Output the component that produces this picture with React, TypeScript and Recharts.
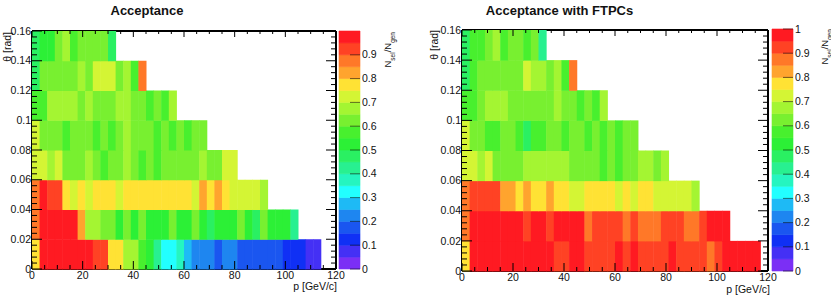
import React from 'react';
import { ScatterChart, Scatter, XAxis, YAxis, ReferenceLine, BarChart, Bar } from 'recharts';

// ROOT-like 20 level palette, one colour per 0.05 of N_sel/N_gen
const PALETTE = [
  '#7b2ff5', '#4430f5', '#1030f5', '#1a56f0', '#1e86f0',
  '#1ebaf5', '#22ffff', '#25f5c0', '#28f090', '#2af062',
  '#2cf036', '#48f02e', '#78f030', '#a4f532', '#d4f534',
  '#ffe234', '#ffa42e', '#ff7828', '#ff4224', '#ff1a22',
];
const Z_STEP = 0.05;

const P_BIN = 3;      // GeV/c
const TH_BIN = 0.02;  // rad
const P_MAX = 120;
const TH_MAX = 0.16;

const P_MAJOR = [0, 20, 40, 60, 80, 100, 120];
const TH_MAJOR = [0, 0.02, 0.04, 0.06, 0.08, 0.1, 0.12, 0.14, 0.16];
const Z_LABELS_LEFT = [0, 0.1, 0.2, 0.3, 0.4, 0.5, 0.6, 0.7, 0.8, 0.9];
const Z_LABELS_RIGHT = [0, 0.1, 0.2, 0.3, 0.4, 0.5, 0.6, 0.7, 0.8, 0.9, 1];

// acceptance, one array per theta row (0-0.02, 0.02-0.04, ...), 3 GeV/c bins from p = 0
const acc0 = [0.78, 0.97, 0.97, 0.97, 0.97, 0.97, 0.97, 0.97, 0.93, 0.93, 0.78, 0.78, 0.68, 0.68, 0.58, 0.53, 0.42, 0.33, 0.33, 0.38,
  0.27, 0.22, 0.22, 0.22, 0.17, 0.22, 0.22, 0.17, 0.17, 0.17, 0.17, 0.17, 0.17, 0.12, 0.12, 0.12, 0.08, 0.07];
const acc1 = [0.88, 0.97, 0.97, 0.97, 0.97, 0.97, 0.83, 0.68, 0.68, 0.63, 0.63, 0.53, 0.63, 0.53, 0.63, 0.53, 0.53, 0.53,
  0.63, 0.53, 0.53, 0.63, 0.53, 0.48, 0.53, 0.53, 0.53, 0.63, 0.53, 0.48, 0.63, 0.53, 0.53, 0.53, 0.42];
const acc2 = [0.88, 0.97, 0.93, 0.93, 0.78, 0.73, 0.78, 0.73, 0.78, 0.78, 0.78, 0.73, 0.78, 0.78, 0.78, 0.78, 0.78, 0.78,
  0.78, 0.78, 0.78, 0.73, 0.82, 0.78, 0.82, 0.78, 0.73, 0.73, 0.73, 0.73, 0.66];
const acc3 = [0.73, 0.73, 0.67, 0.73, 0.63, 0.63, 0.63, 0.67, 0.63, 0.57, 0.63, 0.63, 0.67, 0.63, 0.57, 0.63, 0.57, 0.63,
  0.63, 0.63, 0.63, 0.63, 0.67, 0.63, 0.63, 0.72, 0.72];
const acc4 = [0.73, 0.63, 0.63, 0.63, 0.55, 0.63, 0.63, 0.63, 0.55, 0.63, 0.55, 0.63, 0.67, 0.63, 0.63, 0.63, 0.55, 0.63,
  0.55, 0.63, 0.55, 0.63, 0.63];
const acc5 = [0.55, 0.55, 0.68, 0.68, 0.68, 0.68, 0.63, 0.68, 0.63, 0.63, 0.63, 0.68, 0.68, 0.63, 0.63, 0.55, 0.63, 0.55, 0.68];
const acc6 = [0.45, 0.63, 0.63, 0.63, 0.63, 0.63, 0.66, 0.63, 0.73, 0.73, 0.73, 0.63, 0.68, 0.55, 0.87];
const acc7 = [0.45, 0.53, 0.53, 0.63, 0.68, 0.55, 0.63, 0.63, 0.63, 0.63, 0.45];

// acceptance with FTPCs
const ftpc0 = [0.78, 0.97, 0.97, 0.97, 0.97, 0.97, 0.97, 0.97, 0.97, 0.97, 0.97, 0.97, 0.93, 0.93, 0.97, 0.97, 0.93, 0.93,
  0.93, 0.93, 0.97, 0.93, 0.97, 0.93, 0.93, 0.93, 0.93, 0.97, 0.93, 0.93, 0.93, 0.93, 0.88, 0.93, 0.97, 0.97, 0.97, 0.97, 0.97];
const ftpc1 = [0.88, 0.97, 0.97, 0.97, 0.97, 0.97, 0.97, 0.97, 0.93, 0.97, 0.97, 0.93, 0.97, 0.97, 0.97, 0.97, 0.88, 0.93,
  0.93, 0.93, 0.93, 0.88, 0.93, 0.88, 0.88, 0.85, 0.93, 0.93, 0.93, 0.88, 0.88, 0.93, 0.97, 0.97, 0.97];
const ftpc2 = [0.88, 0.93, 0.93, 0.93, 0.93, 0.83, 0.83, 0.78, 0.83, 0.78, 0.77, 0.83, 0.78, 0.78, 0.73, 0.73, 0.78, 0.78,
  0.78, 0.78, 0.73, 0.78, 0.73, 0.78, 0.78, 0.73, 0.73, 0.73, 0.73, 0.73, 0.66];
const ftpc3 = [0.73, 0.73, 0.67, 0.73, 0.63, 0.63, 0.63, 0.63, 0.65, 0.68, 0.68, 0.68, 0.67, 0.67, 0.63, 0.63, 0.63, 0.63,
  0.58, 0.63, 0.55, 0.63, 0.63, 0.69, 0.69, 0.63, 0.7];
const ftpc4 = [0.73, 0.63, 0.63, 0.55, 0.55, 0.63, 0.63, 0.55, 0.47, 0.55, 0.55, 0.63, 0.63, 0.55, 0.63, 0.63, 0.55, 0.63,
  0.55, 0.63, 0.55, 0.63, 0.63];
const ftpc5 = [0.55, 0.55, 0.63, 0.68, 0.68, 0.68, 0.63, 0.63, 0.63, 0.63, 0.63, 0.63, 0.68, 0.63, 0.63, 0.55, 0.63, 0.55, 0.68];
const ftpc6 = [0.45, 0.55, 0.63, 0.63, 0.63, 0.63, 0.63, 0.63, 0.73, 0.68, 0.68, 0.63, 0.68, 0.55, 0.87];
const ftpc7 = [0.45, 0.55, 0.55, 0.63, 0.68, 0.55, 0.63, 0.63, 0.55, 0.63, 0.42];

const FONT = '"Liberation Sans", Arial, Helvetica, sans-serif';
const INK = '#111';

const zColor = (v: number) => PALETTE[Math.min(PALETTE.length - 1, Math.floor(v / Z_STEP))];

const toCells = (rows: number[][]) =>
  rows.flatMap((row, r) => row.map((v, k) => ({ p: (k + 0.5) * P_BIN, th: (r + 0.5) * TH_BIN, v })));

const fmt = (v: number) => String(+v.toFixed(2));

// minor tick positions (ticks only, no labels)
const P_TICKS = Array.from({ length: 25 }, (_, i) => i * 5);
const TH_TICKS = Array.from({ length: 41 }, (_, i) => +(i * 0.004).toFixed(3));
const isMajorP = (v: number) => P_MAJOR.includes(v);
const isMajorTh = (v: number) => TH_MAJOR.some((m) => Math.abs(m - v) < 1e-6);

interface PanelProps {
  rows: number[][];
  left: number;
  top: number;
  plotW: number;
  plotH: number;
}

const Panel: React.FC<PanelProps> = ({ rows, left, top, plotW, plotH }) => {
  const yAxisW = 32;
  const right = 2;
  const width = yAxisW + plotW + right;
  const height = 300;
  const xAxisH = height - top - plotH;
  const cellW = (plotW * P_BIN) / P_MAX;
  const cellH = (plotH * TH_BIN) / TH_MAX;
  const data = toCells(rows);

  const PTick = (props: any) => {
    const { x, y, payload } = props;
    const major = isMajorP(payload.value);
    return (
      <g>
        <line x1={x} x2={x} y1={y} y2={y - (major ? 8 : 4)} stroke="#000" />
        <line x1={x} x2={x} y1={y - plotH} y2={y - plotH + (major ? 6 : 3)} stroke="#000" />
        {major && (
          <text x={x} y={y + 10} textAnchor="middle" fontSize={10.5} fontFamily={FONT} fill={INK}>
            {payload.value}
          </text>
        )}
      </g>
    );
  };

  const ThTick = (props: any) => {
    const { x, y, payload } = props;
    const major = isMajorTh(payload.value);
    return (
      <g>
        <line x1={x} x2={x + (major ? 10 : 5)} y1={y} y2={y} stroke="#000" />
        <line x1={x + plotW} x2={x + plotW - (major ? 10 : 5)} y1={y} y2={y} stroke="#000" />
        {major && (
          <text x={x - 1} y={y} dy="0.35em" textAnchor="end" fontSize={10.5} fontFamily={FONT} fill={INK}>
            {fmt(payload.value)}
          </text>
        )}
      </g>
    );
  };

  const cellShape = (props: any) => {
    const { cx, cy, payload } = props;
    if (cx == null || cy == null) return <g />;
    return (
      <rect x={cx - cellW / 2} y={cy - cellH / 2} width={cellW + 0.5} height={cellH + 0.5} fill={zColor(payload.v)} />
    );
  };

  return (
    <div style={{ position: 'absolute', left, top: 0, width, height }}>
      <ScatterChart width={width} height={height} margin={{ top, right, bottom: 0, left: 0 }}>
        <Scatter data={data} shape={cellShape} isAnimationActive={false} />
        <XAxis
          type="number"
          dataKey="p"
          domain={[0, P_MAX]}
          ticks={P_TICKS}
          interval={0}
          height={xAxisH}
          tickSize={0}
          tickMargin={0}
          tick={PTick}
          axisLine={{ stroke: '#000', strokeWidth: 2 }}
        />
        <YAxis
          type="number"
          dataKey="th"
          domain={[0, TH_MAX]}
          ticks={TH_TICKS}
          interval={0}
          width={yAxisW}
          tickSize={0}
          tickMargin={0}
          tick={ThTick}
          axisLine={{ stroke: '#000', strokeWidth: 2 }}
        />
        <ReferenceLine y={TH_MAX} stroke="#000" strokeWidth={2} />
        <ReferenceLine x={P_MAX} stroke="#000" strokeWidth={2} />
      </ScatterChart>
    </div>
  );
};

interface ColorBarProps {
  left: number;
  top: number;
  bottom: number;
  labels: number[];
}

const barRow = [Object.fromEntries(PALETTE.map((_, i) => [`s${i}`, Z_STEP]).concat([['name', 'z']]))];

const ColorBar: React.FC<ColorBarProps> = ({ left, top, bottom, labels }) => {
  const barW = 21;
  const axisW = 36;
  const width = barW + axisW;
  const ZTick = (props: any) => {
    const { x, y, payload } = props;
    return (
      <g>
        <line x1={x} x2={x - 10} y1={y} y2={y} stroke="#000" strokeOpacity={0.55} />
        <text x={x + 2} y={y} dy="0.35em" textAnchor="start" fontSize={10.5} fontFamily={FONT} fill={INK}>
          {fmt(payload.value)}
        </text>
      </g>
    );
  };
  return (
    <div style={{ position: 'absolute', left, top: 0, width, height: 300 }}>
      <BarChart width={width} height={300} data={barRow} barCategoryGap={0} barGap={0}
        margin={{ top, bottom, left: 0, right: 0 }}>
        <XAxis dataKey="name" type="category" hide />
        <YAxis
          orientation="right"
          type="number"
          domain={[0, 1]}
          ticks={labels}
          interval={0}
          width={axisW}
          tickSize={0}
          tickMargin={0}
          axisLine={false}
          tick={ZTick}
        />
        {PALETTE.map((c, i) => (
          <Bar key={c} dataKey={`s${i}`} stackId="z" fill={c} stroke={c} strokeWidth={0.6} isAnimationActive={false} />
        ))}
      </BarChart>
    </div>
  );
};

const NRatio: React.FC<{ x: number; y: number }> = ({ x, y }) => (
  <text transform={`translate(${x},${y}) rotate(-90)`} textAnchor="end" fontSize={9.5} fontFamily={FONT} fill={INK}>
    N<tspan fontSize={6.5} baselineShift="sub">sel</tspan>/N<tspan fontSize={6.5} baselineShift="sub">gen</tspan>
  </text>
);

export default function App() {
  return (
    <div style={{ position: 'absolute', left: 0, top: 0, width: 831, height: 300, background: '#fff', overflow: 'hidden' }}>
      <style>{'.recharts-wrapper, .recharts-surface { overflow: visible !important; }'}</style>
      <Panel rows={[acc0, acc1, acc2, acc3, acc4, acc5, acc6, acc7]} left={0} top={31} plotW={304} plotH={238} />
      <ColorBar left={339} top={31} bottom={31} labels={Z_LABELS_LEFT} />
      <Panel rows={[ftpc0, ftpc1, ftpc2, ftpc3, ftpc4, ftpc5, ftpc6, ftpc7]} left={430} top={30} plotW={306} plotH={241} />
      <ColorBar left={772} top={29} bottom={29} labels={Z_LABELS_RIGHT} />
      <svg width={831} height={300} style={{ position: 'absolute', left: 0, top: 0, pointerEvents: 'none' }}>
        <text x={147} y={15} textAnchor="middle" fontSize={13} fontWeight="bold" fontFamily={FONT} fill={INK}>Acceptance</text>
        <text x={559.5} y={15} textAnchor="middle" fontSize={13} fontWeight="bold" fontFamily={FONT} fill={INK}>Acceptance with FTPCs</text>
        <text transform="translate(11,32) rotate(-90)" textAnchor="end" fontSize={10.5} fontFamily={FONT} fill={INK}>θ [rad]</text>
        <text transform="translate(438,30) rotate(-90)" textAnchor="end" fontSize={10.5} fontFamily={FONT} fill={INK}>θ [rad]</text>
        <text x={337} y={290} textAnchor="end" fontSize={10.5} fontFamily={FONT} fill={INK}>p [GeV/c]</text>
        <text x={770} y={293} textAnchor="end" fontSize={10.5} fontFamily={FONT} fill={INK}>p [GeV/c]</text>
        <NRatio x={391} y={32} />
        <NRatio x={828} y={29} />
      </svg>
    </div>
  );
}
